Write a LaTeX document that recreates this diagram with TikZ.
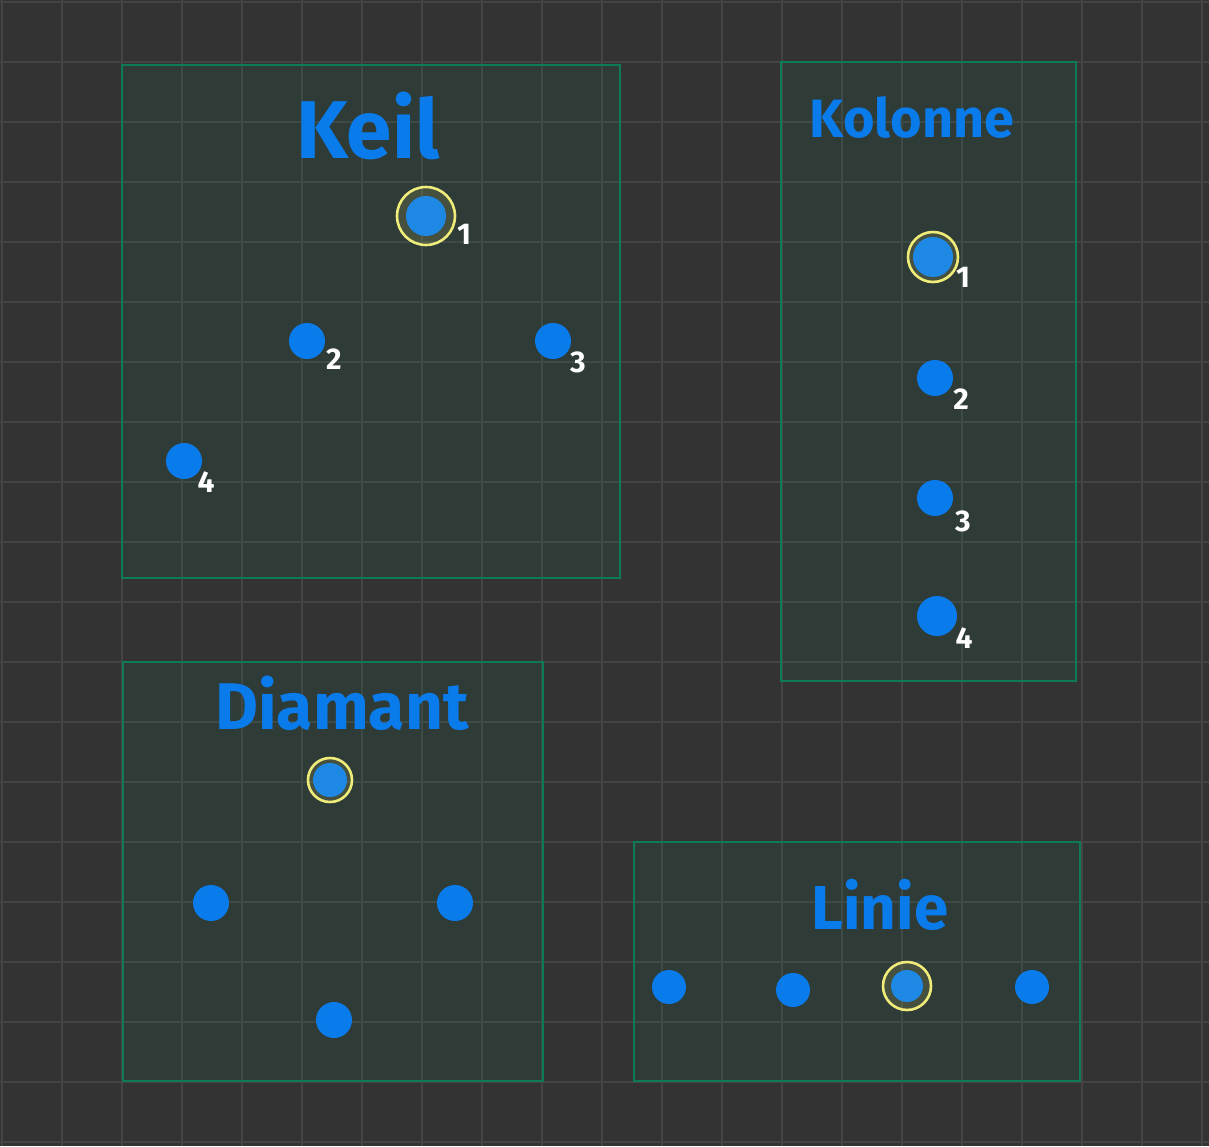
\documentclass[tikz,border=0pt]{standalone}
\usepackage{fontspec}
\setmainfont{Fira Sans}
\definecolor{bgc}{HTML}{333333}
\definecolor{gridc}{HTML}{444444}
\definecolor{boxg}{HTML}{0E7A57}
\definecolor{dotb}{HTML}{0A7BEB}
\definecolor{dotl}{HTML}{1E88E5}
\definecolor{ringy}{HTML}{F0EC7A}
\tikzset{
  frame/.style={draw=boxg, line width=1.1pt},
  framefill/.style={fill=boxg, fill opacity=0.12},
  dot/.style={circle, fill=dotb, inner sep=0pt, minimum size=18pt},
  leaddot/.style={circle, fill=dotl, inner sep=0pt, minimum size=20pt},
  ring/.style={circle, draw=ringy, line width=1.3pt, inner sep=0pt, fill=ringy, fill opacity=0.12},
  title/.style={text=dotb, inner sep=0pt},
  num/.style={text=white, inner sep=0pt, font=\fontsize{15}{15}\selectfont\bfseries}
}
\begin{document}
\begin{tikzpicture}[x=0.5pt, y=-0.5pt]
\useasboundingbox (0,0) rectangle (1209,1146);
\fill[bgc] (0,0) rectangle (1209,1146);
\foreach \i in {0,...,20} {
  \draw[gridc, line width=0.8pt] ({2+60*\i},0) -- ({2+60*\i},1146);
}
\foreach \j in {0,...,19} {
  \draw[gridc, line width=0.8pt] (0,{2+60*\j}) -- (1209,{2+60*\j});
}
% boxes
\fill[framefill] (122,65) rectangle (620,578);
\draw[frame] (122,65) rectangle (620,578);
\fill[framefill] (781,62) rectangle (1076,681);
\draw[frame] (781,62) rectangle (1076,681);
\fill[framefill] (123,662) rectangle (543,1081);
\draw[frame] (123,662) rectangle (543,1081);
\fill[framefill] (634,842) rectangle (1080,1081);
\draw[frame] (634,842) rectangle (1080,1081);

% Keil
\node[title, font=\fontsize{41}{41}\selectfont\bfseries] (tkeil) at (368,126) {Keil};
\node[ring, minimum size=29pt] (k1r) at (426,216) {};
\node[leaddot] (k1) at (426,216) {};
\node[num] (k1n) at (464,234) {1};
\node[dot] (k2) at (307,341) {};
\node[num] (k2n) at (334,359) {2};
\node[dot] (k3) at (553,341) {};
\node[num] (k3n) at (578,362) {3};
\node[dot] (k4) at (184,461) {};
\node[num] (k4n) at (206,482) {4};

% Kolonne
\node[title, font=\fontsize{27}{27}\selectfont\bfseries] (tkol) at (912,117) {Kolonne};
\node[ring, minimum size=25pt] (c1r) at (933,257) {};
\node[leaddot] (c1) at (933,257) {};
\node[num] (c1n) at (963,277) {1};
\node[dot] (c2) at (935,378) {};
\node[num] (c2n) at (961,399) {2};
\node[dot] (c3) at (935,498) {};
\node[num] (c3n) at (963,521) {3};
\node[dot, minimum size=20pt] (c4) at (937,616) {};
\node[num] (c4n) at (964,638) {4};

% Diamant
\node[title, font=\fontsize{33}{33}\selectfont\bfseries] (tdia) at (342,703) {Diamant};
\node[ring, minimum size=22pt] (d1r) at (330,780) {};
\node[leaddot, minimum size=17pt] (d1) at (330,780) {};
\node[dot] (d2) at (211,903) {};
\node[dot] (d3) at (455,903) {};
\node[dot] (d4) at (334,1020) {};

% Linie
\node[title, font=\fontsize{31}{31}\selectfont\bfseries] (tlin) at (880,905) {Linie};
\node[dot, minimum size=17pt] (l1) at (669,987) {};
\node[dot, minimum size=17pt] (l2) at (793,990) {};
\node[ring, minimum size=24pt] (l3r) at (907,986) {};
\node[leaddot, minimum size=16pt] (l3) at (907,986) {};
\node[dot, minimum size=17pt] (l4) at (1032,987) {};
\end{tikzpicture}
\end{document}
